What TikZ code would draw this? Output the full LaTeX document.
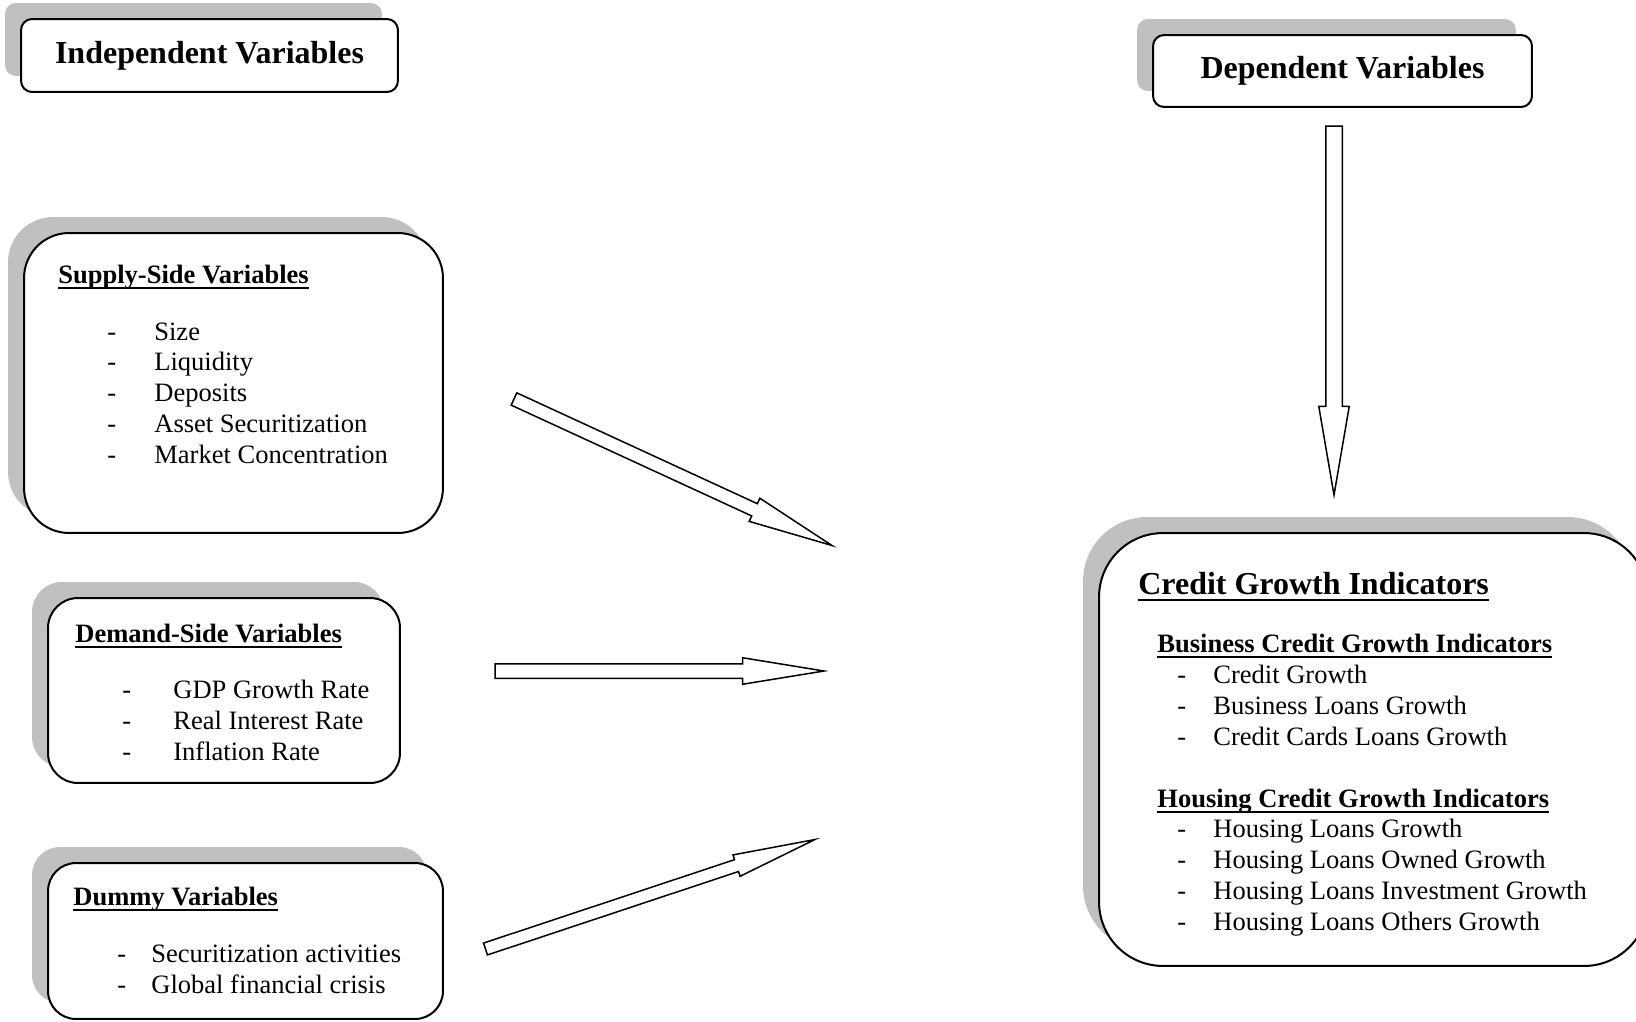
\documentclass[tikz,border=0pt]{standalone}
\usepackage{fontspec}
\setmainfont{Liberation Serif}
\usepackage{tikz}
\usetikzlibrary{calc,shapes.arrows,shadows,positioning}
\definecolor{shadowgray}{RGB}{192,192,192}
% underline at a fixed depth, as in the original word file
\newcommand{\undl}[1]{\setbox0\hbox{#1}\rlap{\rule[-0.21em]{\wd0}{0.065em}}\box0}
\tikzset{
    % boxes with a flat grey shadow up and to the left
    varbox/.style={
        draw, fill=white, line width=0.04cm,
        drop shadow={shadow xshift=-0.32cm, shadow yshift=0.32cm,
                     opacity=1, fill=shadowgray}
    },
    titlebox/.style={varbox, rounded corners=0.22cm,
        font=\fontsize{18.2}{22}\selectfont\bfseries},
    % texts inside the boxes
    bigheadtxt/.style={anchor=base west, inner sep=0pt,
        font=\fontsize{18.2}{22}\selectfont\bfseries},
    headtxt/.style={anchor=base west, inner sep=0pt,
        font=\fontsize{15.1}{18}\selectfont\bfseries},
    itemtxt/.style={anchor=base west, inner sep=0pt,
        font=\fontsize{15.1}{18}\selectfont},
}
\tikzset{
    % hollow block arrows (shaft half width = inner ysep)
    blockarrow/.style={
        single arrow, draw, fill=white, line width=0.03cm,
        inner xsep=0pt, inner ysep=0.12cm, outer sep=0pt, anchor=tail,
        minimum width=0pt, single arrow head extend=0.12cm,
        single arrow tip angle=17
    },
}

\begin{document}
\begin{tikzpicture}[x=0.02cm,y=-0.02cm]
  \useasboundingbox (0,0) rectangle (1636,1021);

  % headings
  \node[titlebox, minimum width=7.54cm, minimum height=1.46cm] (indep) at (209.5,55.5) {Independent Variables};
  \node[titlebox, minimum width=7.58cm, minimum height=1.44cm] (dep) at (1342.5,71) {Dependent Variables};

  % supply side
  \node[varbox, rounded corners=0.9cm, minimum width=8.38cm, minimum height=6cm] (supply) at (233.5,383) {};
  \node[headtxt] (suphead) at (58,283) {\undl{Supply-Side Variables}};
  \foreach \v [count=\i] in {Size, Liquidity, Deposits, Asset Securitization, Market Concentration} {
    \node[itemtxt] (supd\i) at ({107},{309.2+30.8*\i}) {-};
    \node[itemtxt] (sup\i) at ({154},{309.2+30.8*\i}) {\v};
  }

  % demand side
  \node[varbox, rounded corners=0.6cm, minimum width=7.04cm, minimum height=3.7cm] (demand) at (224,690.5) {};
  \node[headtxt] (demhead) at (75,642) {\undl{Demand-Side Variables}};
  \foreach \v [count=\i] in {GDP Growth Rate, Real Interest Rate, Inflation Rate} {
    \node[itemtxt] (demd\i) at ({122},{667+31*\i}) {-};
    \node[itemtxt] (dem\i) at ({173},{667+31*\i}) {\v};
  }

  % dummies
  \node[varbox, rounded corners=0.56cm, minimum width=7.9cm, minimum height=3.12cm] (dummy) at (245.5,941) {};
  \node[headtxt] (dumhead) at (73,905) {\undl{Dummy Variables}};
  \foreach \v [count=\i] in {Securitization activities, Global financial crisis} {
    \node[itemtxt] (dumd\i) at ({117},{931+31*\i}) {-};
    \node[itemtxt] (dum\i) at ({151},{931+31*\i}) {\v};
  }

  % credit growth indicators
  \node[varbox, rounded corners=1.28cm, minimum width=10.98cm, minimum height=8.66cm] (credit) at (1373.5,749.5) {};
  \node[bigheadtxt] (crehead) at (1138,594) {\undl{Credit Growth Indicators}};
  \node[headtxt] (bushead) at (1157,652) {\undl{Business Credit Growth Indicators}};
  \foreach \v [count=\i] in {Credit Growth, Business Loans Growth, Credit Cards Loans Growth} {
    \node[itemtxt] (busd\i) at ({1177},{652+31*\i}) {-};
    \node[itemtxt] (bus\i) at ({1213},{652+31*\i}) {\v};
  }
  \node[headtxt] (houhead) at (1157,807) {\undl{Housing Credit Growth Indicators}};
  \foreach \v [count=\i] in {Housing Loans Growth, Housing Loans Owned Growth, Housing Loans Investment Growth, Housing Loans Others Growth} {
    \node[itemtxt] (houd\i) at ({1177},{805.7+31.3*\i}) {-};
    \node[itemtxt] (hou\i) at ({1213},{805.7+31.3*\i}) {\v};
  }

  % arrows
  \coordinate (s1) at (514,399);  \coordinate (e1) at (832,545.5);
  \coordinate (s2) at (495,671);  \coordinate (e2) at (824,671);
  \coordinate (s3) at (485.5,949); \coordinate (e3) at (815,839.5);
  \coordinate (s4) at (1334,126); \coordinate (e4) at (1334,495);
  \path let \p1=($(e1)-(s1)$) in
    node[blockarrow, rotate={atan2(\y1,\x1)}, minimum height={veclen(\x1,\y1)}] (arr1) at (s1) {};
  \path let \p1=($(e2)-(s2)$) in
    node[blockarrow, inner ysep=0.13cm, single arrow tip angle=18.5,
         rotate={atan2(\y1,\x1)}, minimum height={veclen(\x1,\y1)}] (arr2) at (s2) {};
  \path let \p1=($(e3)-(s3)$) in
    node[blockarrow, inner ysep=0.11cm, single arrow head extend=0.1cm, single arrow tip angle=15.5,
         rotate={atan2(\y1,\x1)}, minimum height={veclen(\x1,\y1)}] (arr3) at (s3) {};
  \path let \p1=($(e4)-(s4)$) in
    node[blockarrow, inner ysep=0.15cm, single arrow head extend=0.14cm, single arrow tip angle=19.5,
         rotate={atan2(\y1,\x1)}, minimum height={veclen(\x1,\y1)}] (arr4) at (s4) {};
\end{tikzpicture}
\end{document}
